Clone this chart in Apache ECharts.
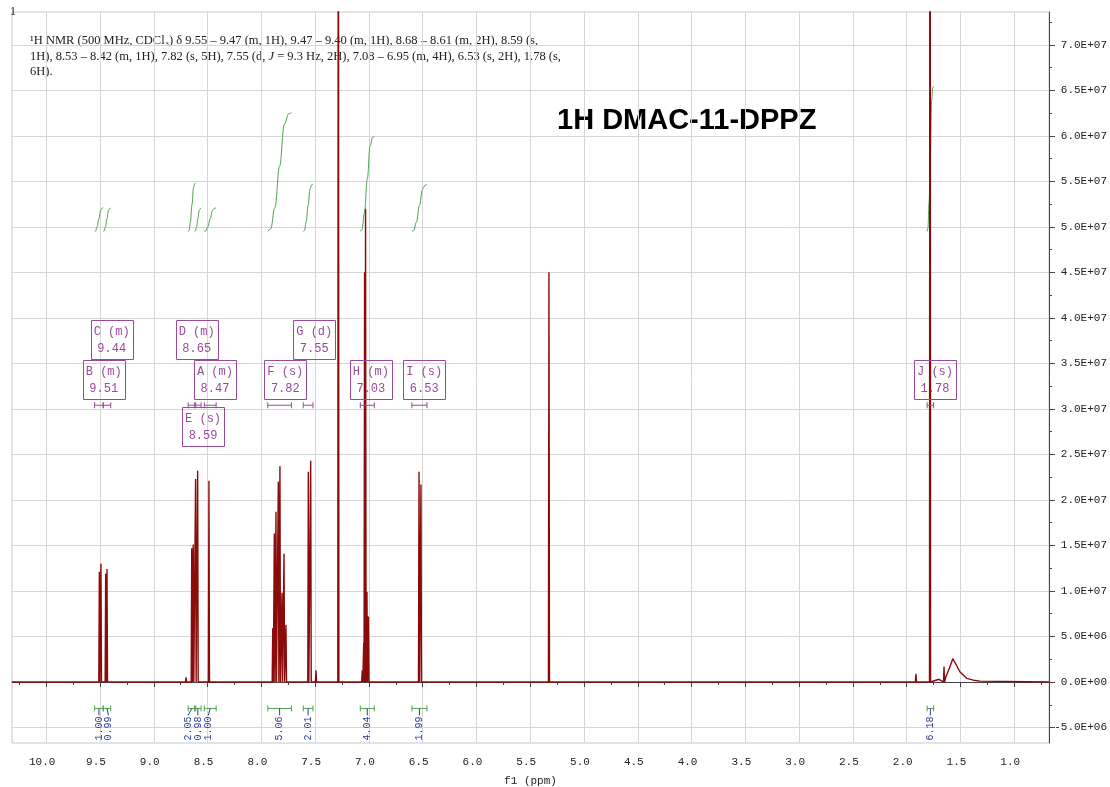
<!DOCTYPE html>
<html>
<head>
<meta charset="utf-8" />
<title>1H DMAC-11-DPPZ</title>
<style type="text/css">
	html, body, #chart {
		width: 100%;
		height: 100%;
		margin: 0;
		overflow: hidden;
		background: #fff;
	}
</style>
</head>
<body>
<div id="chart"></div>
<script src="https://cdn.jsdelivr.net/npm/echarts@6/dist/echarts.min.js"></script>
<script>
	// peaks: shift (ppm) and height (intensity)
	var peakPpm = [9.506, 9.491, 9.447, 9.435, 8.700, 8.647, 8.633, 8.611, 8.592, 8.487,
		7.894, 7.879, 7.864, 7.842, 7.827, 7.808, 7.789, 7.771, 7.563, 7.541, 7.492, 7.284,
		7.062, 7.048, 7.040, 7.031, 7.018, 7.004, 6.534, 6.516, 5.326, 1.914, 1.783, 1.653];
	var peakHeight = [12.1e6, 13.0e6, 11.9e6, 12.4e6, 0.5e6, 14.7e6, 15.1e6, 22.3e6, 23.2e6, 22.1e6,
		5.9e6, 16.3e6, 18.7e6, 22.0e6, 23.7e6, 9.8e6, 14.1e6, 6.3e6, 23.1e6, 24.3e6, 1.3e6, 1.2e8,
		1.3e6, 4.3e6, 45.0e6, 52.0e6, 9.9e6, 7.2e6, 23.1e6, 21.7e6, 45.0e6, 0.9e6, 1.5e8, 1.7e6];
	// broad water hump near 1.57 ppm
	var humpPpm = [1.70, 1.635, 1.60, 1.572, 1.54, 1.504, 1.442, 1.38, 1.318];
	var humpHeight = [0.3e6, 0.6e6, 1.6e6, 2.56e6, 1.9e6, 1.1e6, 0.4e6, 0.2e6, 0.1e6];

	// multiplets and integrals
	var mName = ['B', 'C', 'D', 'E', 'A', 'F', 'G', 'H', 'I', 'J'];
	var mKind = ['m', 'm', 'm', 's', 'm', 's', 'd', 'm', 's', 's'];
	var mShift = ['9.51', '9.44', '8.65', '8.59', '8.47', '7.82', '7.55', '7.03', '6.53', '1.78'];
	var mFrom = [9.55, 9.47, 8.68, 8.62, 8.53, 7.94, 7.61, 7.08, 6.60, 1.81];
	var mTo = [9.47, 9.40, 8.61, 8.56, 8.42, 7.72, 7.52, 6.95, 6.46, 1.75];
	var mIntegral = ['1.00', '0.99', '2.05', '0.98', '1.00', '5.06', '2.01', '4.04', '1.99', '6.18'];

	// ticks
	var xTicks = [10.0, 9.5, 9.0, 8.5, 8.0, 7.5, 7.0, 6.5, 6.0, 5.5, 5.0, 4.5, 4.0, 3.5, 3.0, 2.5, 2.0, 1.5, 1.0];
	var xMinorTicks = [10.25, 9.75, 9.25, 8.75, 8.25, 7.75, 7.25, 6.75, 6.25, 5.75, 5.25, 4.75, 4.25, 3.75, 3.25, 2.75, 2.25, 1.75, 1.25, 0.75];
	var yTicks = [-5e6, 0, 5e6, 10e6, 15e6, 20e6, 25e6, 30e6, 35e6, 40e6, 45e6, 50e6, 55e6, 60e6, 65e6, 70e6];
	var yMinorTicks = [-2.5e6, 2.5e6, 7.5e6, 12.5e6, 17.5e6, 22.5e6, 27.5e6, 32.5e6, 37.5e6, 42.5e6, 47.5e6, 52.5e6, 57.5e6, 62.5e6, 67.5e6, 72.5e6];

	// layout (not data)
	var X_MIN = 0.677, X_MAX = 10.318, Y_MIN = -6.7e6, Y_MAX = 73.6e6;
	var boxAt = [[9.465, 1], [9.391, 2], [8.601, 2], [8.542, 0], [8.431, 1], [7.777, 1], [7.508, 2], [6.982, 1], [6.486, 1], [1.737, 1]];
	var boxRowLevel = [28.05e6, 33.2e6, 37.6e6];
	var bracketLevel = 30.4e6;
	var intBracketLevel = -2.9e6;
	var intLabelNudge = [0, 1.5, -4, 0, -2, 0, 0, 0, 0, 0];
	var integralBase = 49.5e6, integralPerH = 2.58e6;
	var RED = '#8b0a0a', PURPLE = '#9a4a9a', GREEN = '#4ea24e', BLUE = '#2c3c96';
	var MONO = '"Liberation Mono", "DejaVu Sans Mono", monospace';

	function sci(v) {
		if (v === 0) return '0.0E+00';
		var e = Math.floor(Math.log10(Math.abs(v)) + 1e-9);
		var m = v / Math.pow(10, e);
		return m.toFixed(1) + 'E+' + (e < 10 ? '0' : '') + e;
	}

	// spectrum line built from the peak list
	var hw = 0.005;
	var spectrum = [[X_MAX, 0], [X_MIN, 0]];
	peakPpm.forEach(function (p, i) {
		spectrum.push([p + hw, 0], [p, peakHeight[i]], [p - hw, 0]);
	});
	humpPpm.forEach(function (p, i) {
		spectrum.push([p, humpHeight[i]]);
	});
	spectrum.sort(function (a, b) { return b[0] - a[0]; });

	// integral curves
	var shapeF = [0, 0.12, 0.3, 0.5, 0.7, 0.88, 1];
	var shapeR = [0, 0.02, 0.2, 0.55, 0.9, 0.99, 1];
	var integralSeries = mFrom.map(function (from, i) {
		var to = mTo[i];
		var h = parseFloat(mIntegral[i]) * integralPerH;
		return {
			type: 'line',
			silent: true,
			showSymbol: false,
			smooth: 0.4,
			smoothMonotone: 'x',
			lineStyle: { color: GREEN, width: 1 },
			z: 1,
			data: shapeF.map(function (f, k) {
				return [from - (from - to) * f, integralBase + h * shapeR[k]];
			})
		};
	});

	function hBar(x0, x1, y, color) {
		var st = { stroke: color, lineWidth: 1 };
		return [
			{ type: 'line', shape: { x1: x0, y1: y, x2: x1, y2: y }, style: st },
			{ type: 'line', shape: { x1: x0, y1: y - 3, x2: x0, y2: y + 3 }, style: st },
			{ type: 'line', shape: { x1: x1, y1: y - 3, x2: x1, y2: y + 3 }, style: st }
		];
	}

	function renderMultiplet(params, api) {
		var i = api.value(0);
		var y = api.coord([0, bracketLevel])[1];
		var x0 = api.coord([mFrom[i], 0])[0];
		var x1 = api.coord([mTo[i], 0])[0];
		var c = api.coord([boxAt[i][0], boxRowLevel[boxAt[i][1]]]);
		var kids = hBar(x0, x1, y, PURPLE);
		kids.push(
			{ type: 'rect', shape: { x: Math.round(c[0] - 21) + 0.5, y: Math.round(c[1] - 19.5) + 0.5, width: 42, height: 39 },
				style: { fill: 'none', stroke: PURPLE, lineWidth: 1 } },
			{ type: 'text', x: c[0], y: c[1] - 8,
				style: { text: mName[i] + ' (' + mKind[i] + ')', fill: PURPLE, font: '12px ' + MONO, align: 'center', verticalAlign: 'middle' } },
			{ type: 'text', x: c[0], y: c[1] + 9,
				style: { text: mShift[i], fill: PURPLE, font: '12px ' + MONO, align: 'center', verticalAlign: 'middle' } }
		);
		return { type: 'group', children: kids };
	}

	function renderIntegral(params, api) {
		var i = api.value(0);
		var y = api.coord([0, intBracketLevel])[1];
		var x0 = api.coord([mFrom[i], 0])[0];
		var x1 = api.coord([mTo[i], 0])[0];
		var xc = (x0 + x1) / 2;
		var xl = xc + intLabelNudge[i];
		var kids = hBar(x0, x1, y, GREEN);
		kids.push(
			{ type: 'line', shape: { x1: xc, y1: y, x2: xl, y2: y + 7 }, style: { stroke: BLUE, lineWidth: 1 } },
			{ type: 'text', x: xl, y: y + 8, rotation: Math.PI / 2,
				style: { text: mIntegral[i], fill: BLUE, font: '10px ' + MONO, align: 'right', verticalAlign: 'middle' } }
		);
		return { type: 'group', children: kids };
	}

	var idx = mName.map(function (n, i) { return [i]; });

	var chart = echarts.init(document.getElementById('chart'));
	var option = {
		animation: false,
		backgroundColor: '#fff',
		grid: {
			left: 12, right: 61, top: 12, bottom: 44,
			outerBoundsMode: 'none', containLabel: false,
			show: true, borderColor: '#c8c8c8', borderWidth: 1
		},
		xAxis: [
			{
				type: 'value', inverse: true, min: X_MIN, max: X_MAX,
				name: 'f1 (ppm)', nameLocation: 'middle', nameGap: 33,
				nameTextStyle: { color: '#222', fontFamily: MONO, fontSize: 11 },
				axisLine: { show: true, lineStyle: { color: '#444' } },
				axisTick: { show: true, length: 5, customValues: xTicks, lineStyle: { color: '#444' } },
				axisLabel: { customValues: xTicks, margin: 14, color: '#222', fontFamily: MONO, fontSize: 11,
					padding: [0, 8, 0, 0],
					formatter: function (v) { return v.toFixed(1); } },
				splitLine: { show: true, lineStyle: { color: '#d6d6d6' } }
			},
			{
				type: 'value', inverse: true, min: X_MIN, max: X_MAX, position: 'bottom',
				axisLine: { show: false },
				axisTick: { show: true, length: 3, customValues: xMinorTicks, lineStyle: { color: '#444' } },
				axisLabel: { show: false },
				splitLine: { show: false }
			}
		],
		yAxis: [
			{
				type: 'value', position: 'right', min: Y_MIN, max: Y_MAX,
				axisLine: { show: true, lineStyle: { color: '#444' } },
				axisTick: { show: true, length: 6, customValues: yTicks, lineStyle: { color: '#444' } },
				axisLabel: { customValues: yTicks, margin: 58, align: 'right', color: '#222', fontFamily: MONO, fontSize: 11, formatter: sci },
				splitLine: { show: true, lineStyle: { color: '#d6d6d6' } }
			},
			{
				type: 'value', position: 'right', min: Y_MIN, max: Y_MAX,
				axisLine: { show: false },
				axisTick: { show: true, length: 3, customValues: yMinorTicks, lineStyle: { color: '#444' } },
				axisLabel: { show: false },
				splitLine: { show: false }
			}
		],
		graphic: [
			{ type: 'text', left: 10, top: 6, style: { text: '1', fill: '#222', font: '12px "Liberation Serif", serif' } },
			{
				type: 'text', left: 30, top: 33,
				style: {
					text: '¹H NMR (500 MHz, CDCl₃) δ 9.55 – 9.47 (m, 1H), 9.47 – 9.40 (m, 1H), 8.68 – 8.61 (m, 2H), 8.59 (s,\n' +
						'1H), 8.53 – 8.42 (m, 1H), 7.82 (s, 5H), 7.55 (d, {i|J} = 9.3 Hz, 2H), 7.08 – 6.95 (m, 4H), 6.53 (s, 2H), 1.78 (s,\n' +
						'6H).',
					fill: '#222', font: '12.5px "Liberation Serif", serif', lineHeight: 15.5,
					rich: { i: { fontStyle: 'italic', fontFamily: '"Liberation Serif", serif', fontSize: 12.5, fill: '#222' } }
				}
			},
			{ type: 'text', left: 557, top: 106, style: { text: '1H DMAC-11-DPPZ', fill: '#000', font: 'bold 29px "Liberation Sans", Arial, sans-serif' } }
		],
		series: integralSeries.concat([
			{
				type: 'line', silent: true, showSymbol: false, z: 3,
				lineStyle: { color: RED, width: 1.4 },
				data: spectrum
			},
			{ type: 'custom', silent: true, z: 4, renderItem: renderMultiplet, data: idx },
			{ type: 'custom', silent: true, z: 4, renderItem: renderIntegral, data: idx }
		])
	};
	chart.setOption(option);
</script>
</body>
</html>
